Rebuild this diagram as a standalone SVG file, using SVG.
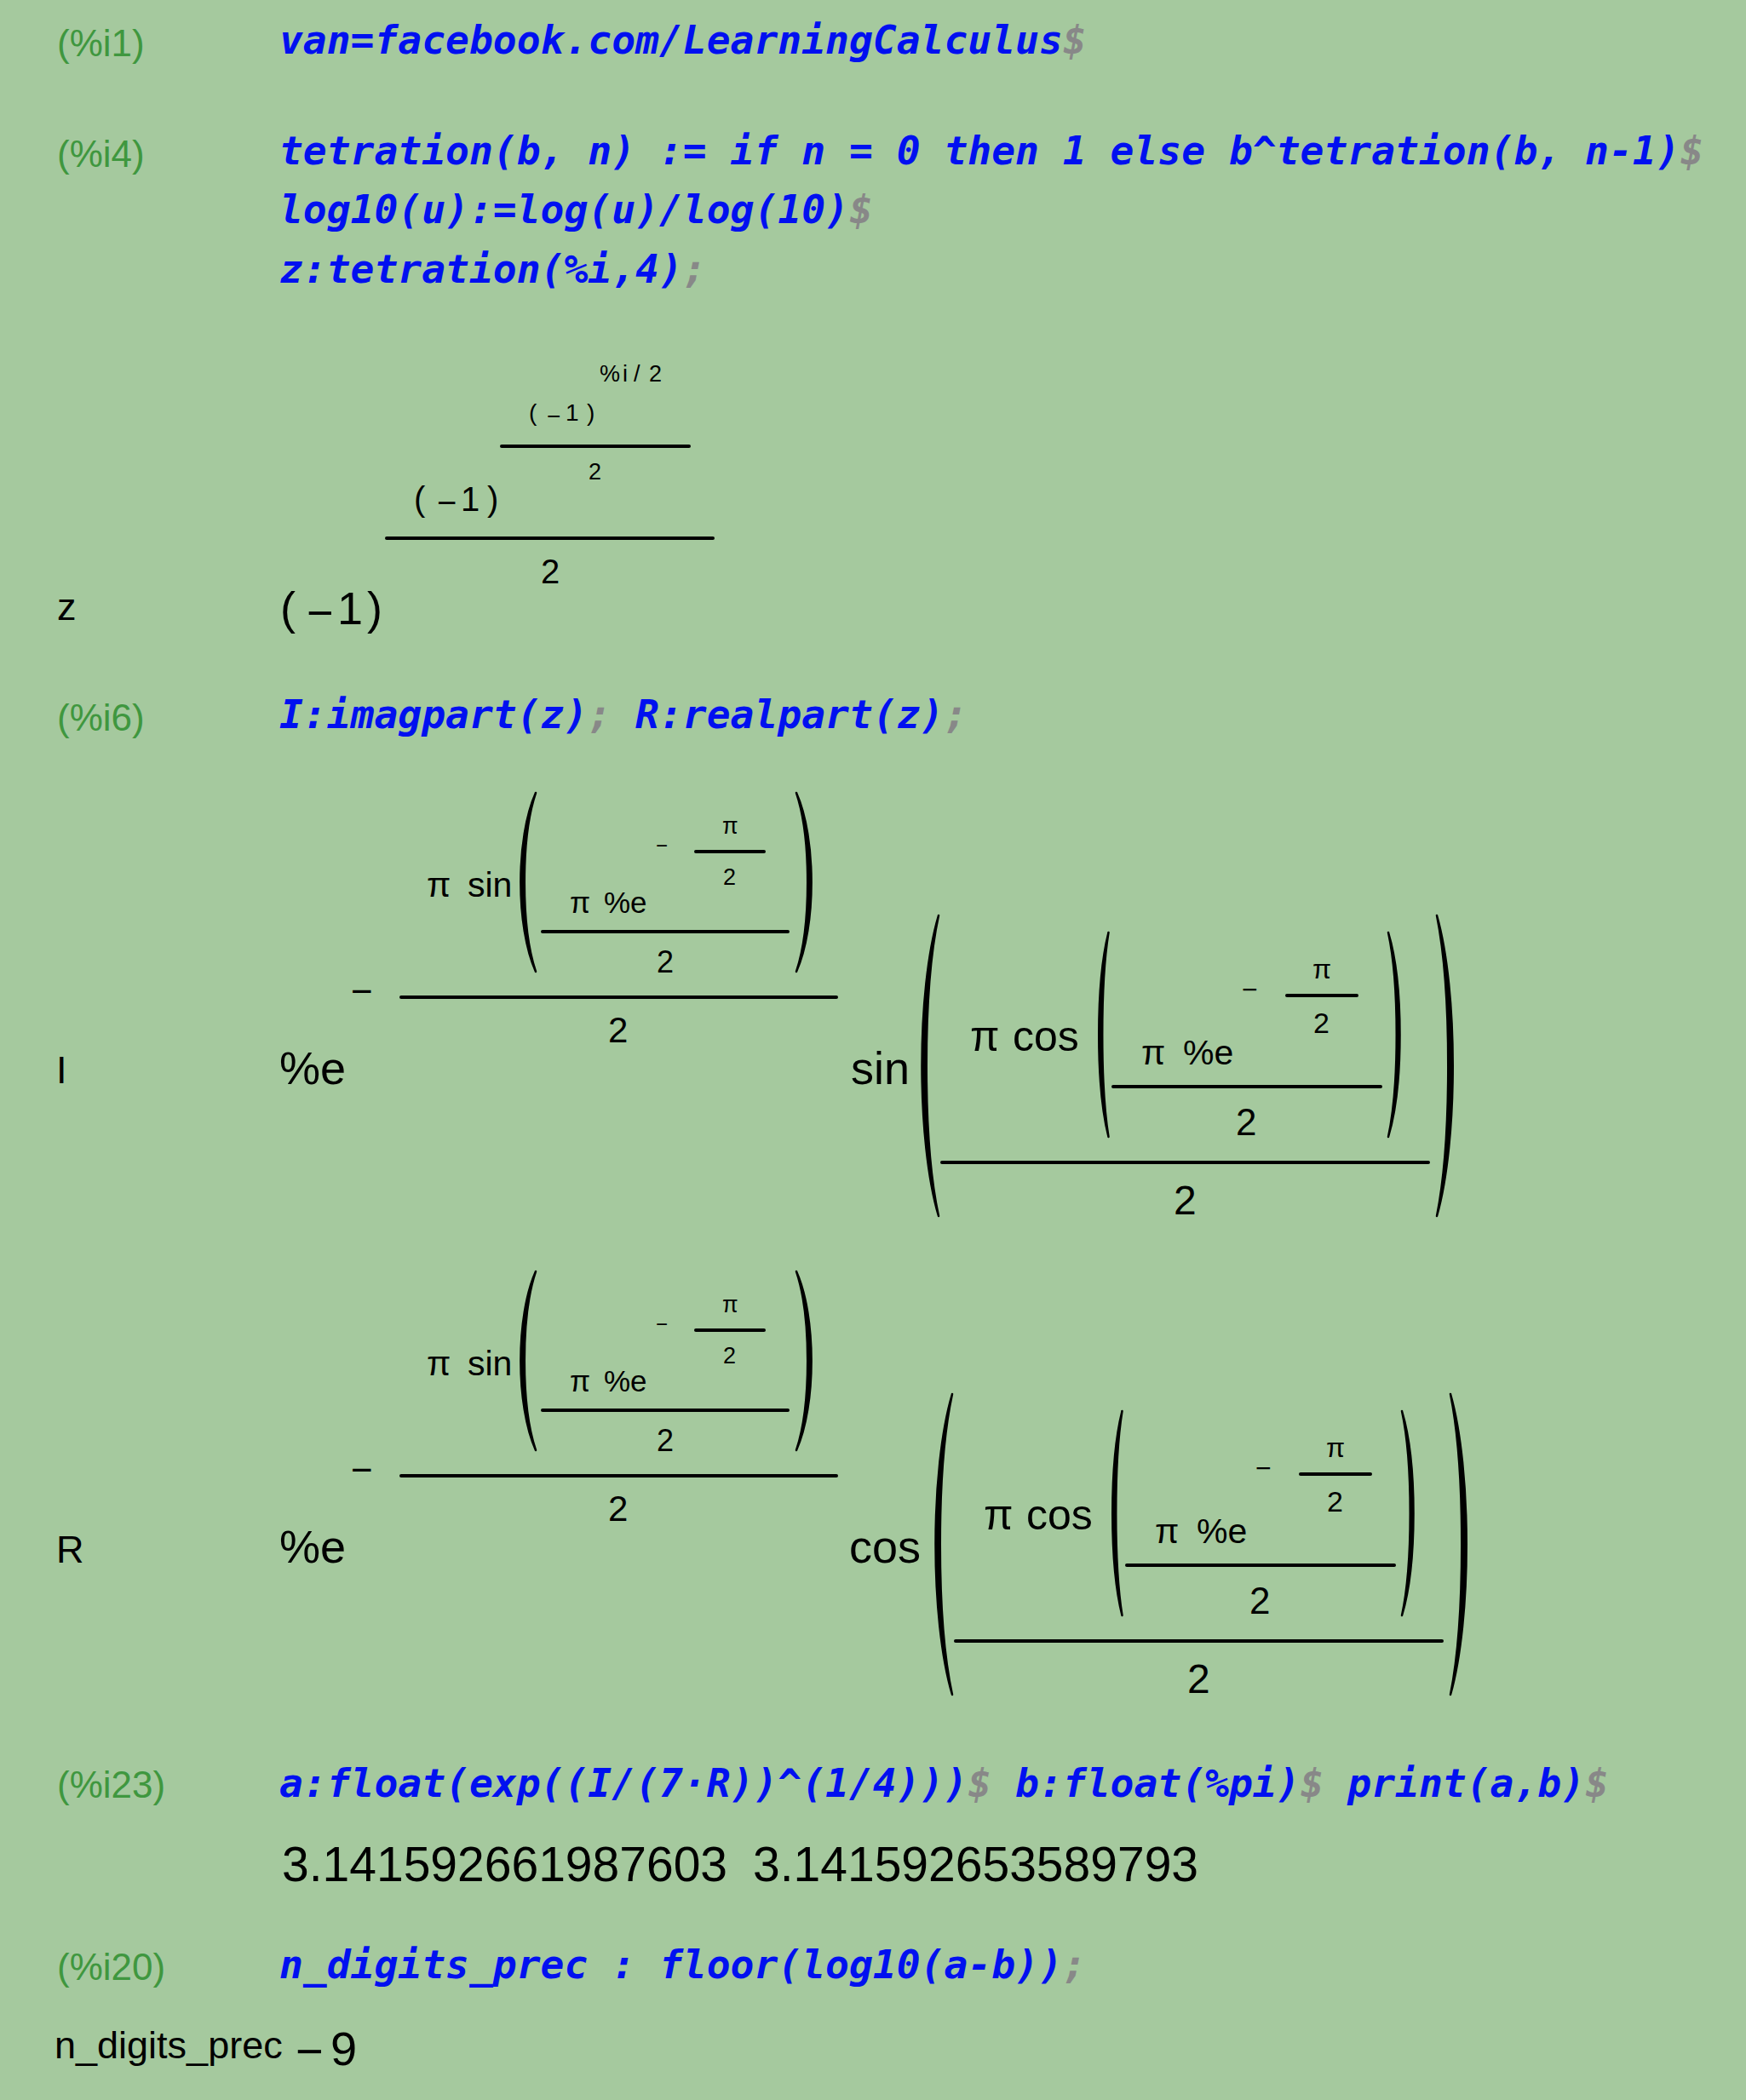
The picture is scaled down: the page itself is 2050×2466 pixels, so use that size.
<svg xmlns="http://www.w3.org/2000/svg" width="2050" height="2466" viewBox="0 0 2050 2466">
<style>
.in{font-family:"DejaVu Sans Mono","Liberation Mono",monospace;font-weight:bold;font-style:italic;font-size:46.3px;fill:#0010f0}
.g{fill:#888888}
.lb{font-family:"Liberation Sans",Arial,sans-serif;font-size:44px;fill:#3f973f}
.ol{font-family:"Liberation Sans",Arial,sans-serif;font-size:45px;fill:#000}
.m{font-family:"Liberation Sans",Arial,sans-serif;fill:#000}
.fl{stroke:#000;stroke-width:4;stroke-linecap:round;fill:none}
.pr{fill:#000;stroke:#000;stroke-width:2.5;stroke-linejoin:round;stroke-linecap:round}
</style>
<rect x="0" y="0" width="2050" height="2466" fill="#a5c99e"/>

<g id="cell-i1">
<text class="lb" x="67" y="66">(%i1)</text>
<text class="in" x="328" y="63" xml:space="preserve">van=facebook.com/LearningCalculus<tspan class="g">$</tspan></text>
</g>

<g id="cell-i4">
<text class="lb" x="67" y="196">(%i4)</text>
<text class="in" x="328" y="193" xml:space="preserve">tetration(b, n) := if n = 0 then 1 else b^tetration(b, n-1)<tspan class="g">$</tspan></text>
<text class="in" x="328" y="262" xml:space="preserve">log10(u):=log(u)/log(10)<tspan class="g">$</tspan></text>
<text class="in" x="328" y="332" xml:space="preserve">z:tetration(%i,4)<tspan class="g">;</tspan></text>
</g>

<g id="out-z">
<text class="ol" x="67" y="728">z</text>
<text class="m" font-size="54" x="329 360 396 431" y="733 738 733 733">(−1)</text>
<text class="m" font-size="40" x="486 513 541 572" y="600 603.5 600 600">(−1)</text>
<line class="fl" x1="454" y1="632" x2="837" y2="632"/>
<text class="m" font-size="40" x="635" y="685">2</text>
<text class="m" font-size="28" x="621 642 664 689" y="494 498 494 494">(−1)</text>
<line class="fl" x1="589" y1="524" x2="809" y2="524"/>
<text class="m" font-size="27" x="691" y="563">2</text>
<text class="m" font-size="27" x="704 731 744 762" y="448">%i/2</text>
</g>

<g id="cell-i6">
<text class="lb" x="67" y="858">(%i6)</text>
<text class="in" x="328" y="855" xml:space="preserve">I:imagpart(z)<tspan class="g">;</tspan> R:realpart(z)<tspan class="g">;</tspan></text>
</g>

<g id="out-I">
<text class="ol" x="66" y="1272">I</text>
<text class="m" font-size="54" x="328" y="1273">%e</text>
<g id="I-exp">
<text class="m" font-size="44" x="412" y="1179">−</text>
<line class="fl" x1="471" y1="1171" x2="982" y2="1171"/>
<text class="m" font-size="42" x="714" y="1224">2</text>
<text class="m" font-size="41" x="501" y="1053">π</text>
<text class="m" font-size="41" x="549" y="1053">sin</text>
<path class="pr" d="M629,931 C605.5,983.5 605.5,1088.5 629,1141 C611.4,1088.5 611.4,983.5 629,931Z"/>
<path class="pr" d="M935,931 C958.5,983.5 958.5,1088.5 935,1141 C952.6,1088.5 952.6,983.5 935,931Z"/>
<text class="m" font-size="24" x="770" y="1001">−</text>
<line class="fl" x1="817" y1="1000" x2="897" y2="1000"/>
<text class="m" font-size="27" x="848" y="979">π</text>
<text class="m" font-size="27" x="849" y="1039">2</text>
<text class="m" font-size="35" x="669" y="1072">π</text>
<text class="m" font-size="35" x="709" y="1072">%e</text>
<line class="fl" x1="637" y1="1094" x2="925" y2="1094"/>
<text class="m" font-size="36" x="771" y="1142">2</text>
</g>
<text class="m" font-size="54" x="999" y="1273">sin</text>
<g id="I-arg">
<path class="pr" d="M1102,1075 C1076,1163 1076,1340 1102,1428 C1083,1340 1083,1163 1102,1075Z"/>
<path class="pr" d="M1687,1075 C1712,1163 1712,1340 1687,1428 C1704.7,1340 1704.7,1163 1687,1075Z"/>
<text class="m" font-size="50" x="1139" y="1234">π</text>
<text class="m" font-size="50" x="1189" y="1234">cos</text>
<path class="pr" d="M1301.5,1095 C1286.5,1155 1286.5,1275 1301.5,1335 C1291.8,1275 1291.8,1155 1301.5,1095Z"/>
<path class="pr" d="M1630,1095 C1648,1155 1648,1275 1630,1335 C1643,1275 1643,1155 1630,1095Z"/>
<text class="m" font-size="32" x="1458" y="1173">−</text>
<line class="fl" x1="1511" y1="1169" x2="1593" y2="1169"/>
<text class="m" font-size="32" x="1541" y="1149">π</text>
<text class="m" font-size="34" x="1542" y="1213">2</text>
<text class="m" font-size="41" x="1340" y="1250">π</text>
<text class="m" font-size="41" x="1389" y="1250">%e</text>
<line class="fl" x1="1307" y1="1276" x2="1621" y2="1276"/>
<text class="m" font-size="44" x="1451" y="1333">2</text>
<line class="fl" x1="1106" y1="1365" x2="1677" y2="1365"/>
<text class="m" font-size="48" x="1378" y="1426">2</text>
</g>
</g>

<g id="out-R">
<text class="ol" x="66" y="1835">R</text>
<text class="m" font-size="54" x="328" y="1835">%e</text>
<g id="R-exp" transform="translate(0 562)">
<text class="m" font-size="44" x="412" y="1179">−</text>
<line class="fl" x1="471" y1="1171" x2="982" y2="1171"/>
<text class="m" font-size="42" x="714" y="1224">2</text>
<text class="m" font-size="41" x="501" y="1053">π</text>
<text class="m" font-size="41" x="549" y="1053">sin</text>
<path class="pr" d="M629,931 C605.5,983.5 605.5,1088.5 629,1141 C611.4,1088.5 611.4,983.5 629,931Z"/>
<path class="pr" d="M935,931 C958.5,983.5 958.5,1088.5 935,1141 C952.6,1088.5 952.6,983.5 935,931Z"/>
<text class="m" font-size="24" x="770" y="1001">−</text>
<line class="fl" x1="817" y1="1000" x2="897" y2="1000"/>
<text class="m" font-size="27" x="848" y="979">π</text>
<text class="m" font-size="27" x="849" y="1039">2</text>
<text class="m" font-size="35" x="669" y="1072">π</text>
<text class="m" font-size="35" x="709" y="1072">%e</text>
<line class="fl" x1="637" y1="1094" x2="925" y2="1094"/>
<text class="m" font-size="36" x="771" y="1142">2</text>
</g>
<text class="m" font-size="54" x="997" y="1835">cos</text>
<g id="R-arg" transform="translate(16 562)">
<path class="pr" d="M1102,1075 C1076,1163 1076,1340 1102,1428 C1083,1340 1083,1163 1102,1075Z"/>
<path class="pr" d="M1687,1075 C1712,1163 1712,1340 1687,1428 C1704.7,1340 1704.7,1163 1687,1075Z"/>
<text class="m" font-size="50" x="1139" y="1234">π</text>
<text class="m" font-size="50" x="1189" y="1234">cos</text>
<path class="pr" d="M1301.5,1095 C1286.5,1155 1286.5,1275 1301.5,1335 C1291.8,1275 1291.8,1155 1301.5,1095Z"/>
<path class="pr" d="M1630,1095 C1648,1155 1648,1275 1630,1335 C1643,1275 1643,1155 1630,1095Z"/>
<text class="m" font-size="32" x="1458" y="1173">−</text>
<line class="fl" x1="1511" y1="1169" x2="1593" y2="1169"/>
<text class="m" font-size="32" x="1541" y="1149">π</text>
<text class="m" font-size="34" x="1542" y="1213">2</text>
<text class="m" font-size="41" x="1340" y="1250">π</text>
<text class="m" font-size="41" x="1389" y="1250">%e</text>
<line class="fl" x1="1307" y1="1276" x2="1621" y2="1276"/>
<text class="m" font-size="44" x="1451" y="1333">2</text>
<line class="fl" x1="1106" y1="1365" x2="1677" y2="1365"/>
<text class="m" font-size="48" x="1378" y="1426">2</text>
</g>
</g>

<g id="cell-i23">
<text class="lb" x="67" y="2111">(%i23)</text>
<text class="in" x="328" y="2110" xml:space="preserve">a:float(exp((I/(7·R))^(1/4)))<tspan class="g">$</tspan> b:float(%pi)<tspan class="g">$</tspan> print(a,b)<tspan class="g">$</tspan></text>
<text class="m" font-size="57" x="331" y="2209">3.141592661987603</text>
<text class="m" font-size="57" x="884" y="2209">3.141592653589793</text>
</g>

<g id="cell-i20">
<text class="lb" x="67" y="2325">(%i20)</text>
<text class="in" x="328" y="2323" xml:space="preserve">n_digits_prec : floor(log10(a-b))<tspan class="g">;</tspan></text>
<text class="ol" x="64" y="2417" font-size="46.5">n_digits_prec</text>
<text class="m" font-size="56" x="347 388" y="2428 2425">−9</text>
</g>
</svg>
